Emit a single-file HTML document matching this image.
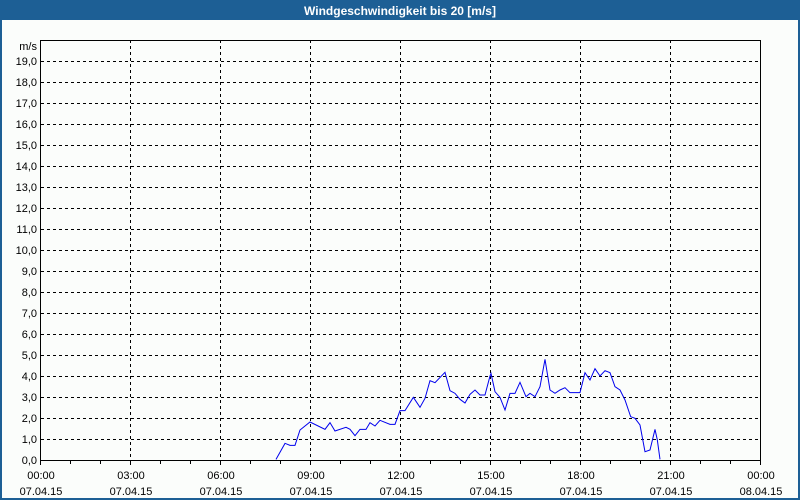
<!DOCTYPE html>
<html><head><meta charset="utf-8"><style>
html,body{margin:0;padding:0;background:#fff}
svg{display:block}
text{font-family:"Liberation Sans",sans-serif;font-size:11px;fill:#000}
</style></head><body>
<svg width="800" height="500" viewBox="0 0 800 500" xmlns="http://www.w3.org/2000/svg">
<rect x="0" y="0" width="800" height="500" fill="#1d5f95"/>
<rect x="2" y="20" width="796" height="478" fill="#fbfdfb"/>
<text x="400" y="15" text-anchor="middle" style="font-weight:bold;font-size:12px;fill:#fff">Windgeschwindigkeit bis 20 [m/s]</text>
<g stroke="#000" stroke-width="1" stroke-dasharray="3,3" shape-rendering="crispEdges">
<path d="M41 439.5H761M41 418.5H761M41 397.5H761M41 376.5H761M41 355.5H761M41 334.5H761M41 313.5H761M41 292.5H761M41 271.5H761M41 250.5H761M41 229.5H761M41 208.5H761M41 187.5H761M41 166.5H761M41 145.5H761M41 124.5H761M41 103.5H761M41 82.5H761M41 61.5H761"/>
<path d="M130.5 40V460M220.5 40V460M310.5 40V460M400.5 40V460M490.5 40V460M580.5 40V460M670.5 40V460"/>
</g>
<g stroke="#000" stroke-width="1" shape-rendering="crispEdges" fill="none">
<rect x="40.5" y="40.5" width="720" height="420"/>
<path d="M40.5 460V465M70.5 460V464M100.5 460V464M130.5 460V465M160.5 460V464M190.5 460V464M220.5 460V465M250.5 460V464M280.5 460V464M310.5 460V465M340.5 460V464M370.5 460V464M400.5 460V465M430.5 460V464M460.5 460V464M490.5 460V465M520.5 460V464M550.5 460V464M580.5 460V465M610.5 460V464M640.5 460V464M670.5 460V465M700.5 460V464M730.5 460V464M760.5 460V465"/>
</g>
<g text-anchor="end">
<text x="37" y="50">m/s</text>
<text x="37" y="65">19,0</text><text x="37" y="86">18,0</text><text x="37" y="107">17,0</text><text x="37" y="128">16,0</text><text x="37" y="149">15,0</text><text x="37" y="170">14,0</text><text x="37" y="191">13,0</text><text x="37" y="212">12,0</text><text x="37" y="233">11,0</text><text x="37" y="254">10,0</text><text x="37" y="275">9,0</text><text x="37" y="296">8,0</text><text x="37" y="317">7,0</text><text x="37" y="338">6,0</text><text x="37" y="359">5,0</text><text x="37" y="380">4,0</text><text x="37" y="401">3,0</text><text x="37" y="422">2,0</text><text x="37" y="443">1,0</text><text x="37" y="464">0,0</text>
</g>
<g text-anchor="middle">
<text x="41" y="479">00:00</text><text x="41" y="495">07.04.15</text>
<text x="131" y="479">03:00</text><text x="131" y="495">07.04.15</text>
<text x="221" y="479">06:00</text><text x="221" y="495">07.04.15</text>
<text x="311" y="479">09:00</text><text x="311" y="495">07.04.15</text>
<text x="401" y="479">12:00</text><text x="401" y="495">07.04.15</text>
<text x="491" y="479">15:00</text><text x="491" y="495">07.04.15</text>
<text x="581" y="479">18:00</text><text x="581" y="495">07.04.15</text>
<text x="671" y="479">21:00</text><text x="671" y="495">07.04.15</text>
<text x="761" y="479">00:00</text><text x="761" y="495">08.04.15</text>
</g>
<g transform="translate(260,340) scale(0.33333)">
<polyline fill="none" stroke="#0000ee" stroke-width="1" vector-effect="non-scaling-stroke" points="48,358 75,310 90,316 105,316 120,270 150,246 195,268 210,248 225,273 258,262 270,268 285,287 300,268 318,268 330,248 345,258 360,241 390,253 405,253 420,212 435,212 460,172 480,202 495,175 510,122 525,128 555,97 570,152 585,160 600,178 615,189 630,163 645,150 660,165 675,165 690,108 693,100 705,155 720,172 735,210 750,160 765,160 780,127 798,170 810,160 825,170 840,140 855,58 870,150 885,160 900,150 915,143 930,158 960,158 975,98 990,120 1005,86 1020,108 1035,92 1050,98 1065,140 1080,150 1095,180 1112,230 1125,235 1140,255 1155,335 1170,330 1185,268 1192,300 1200,358"/>
</g>
</svg>
</body></html>
